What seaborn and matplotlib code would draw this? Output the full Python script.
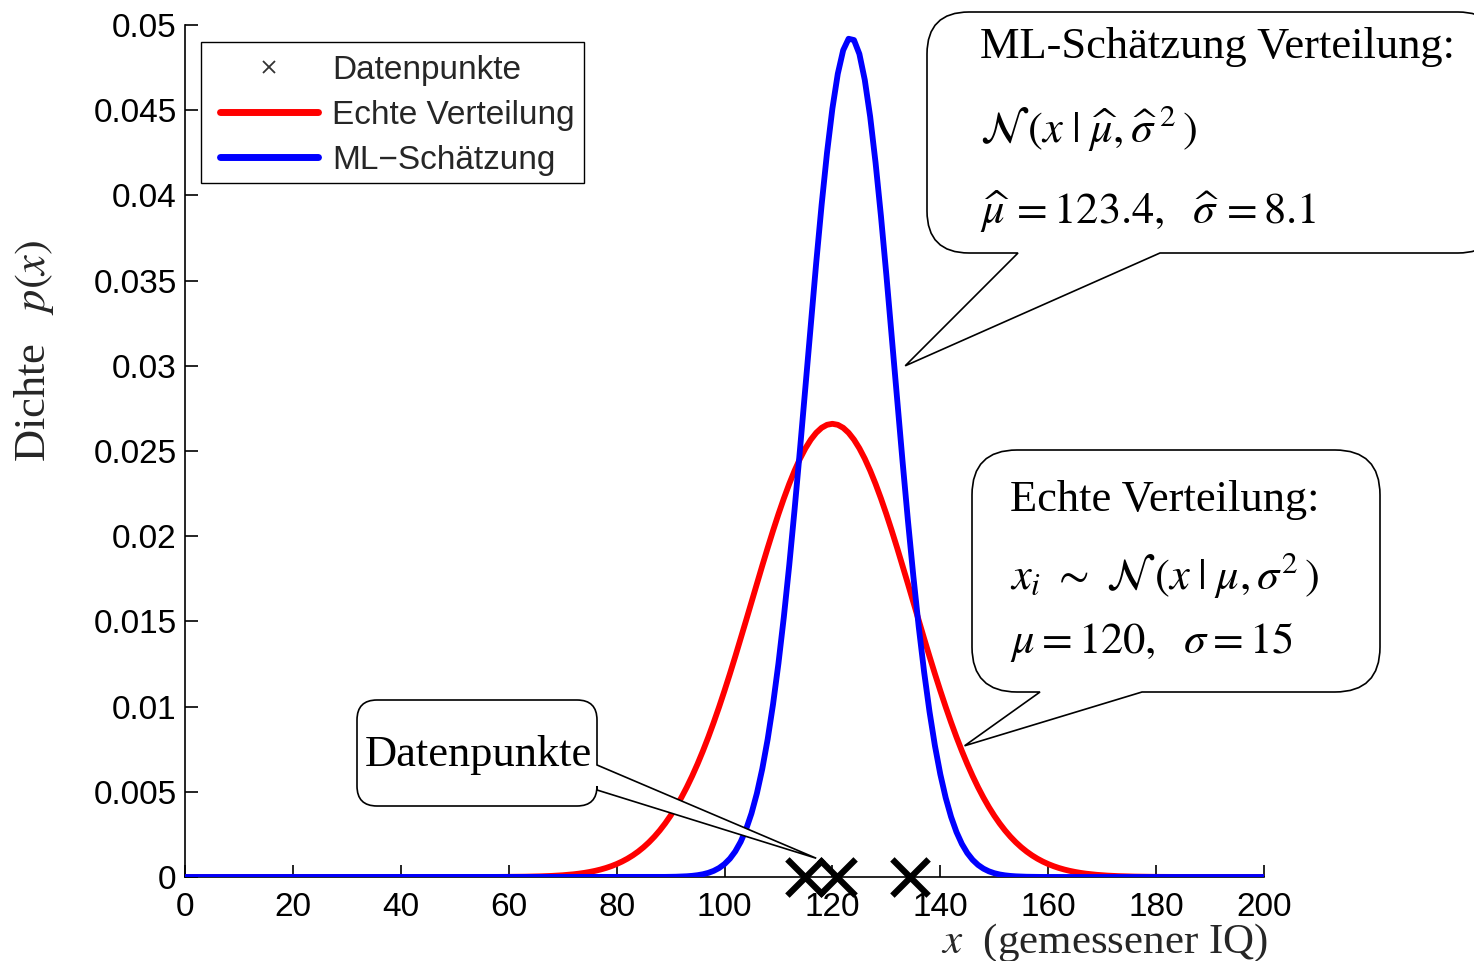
import numpy as np
import matplotlib
matplotlib.use("Agg")
import matplotlib.pyplot as plt
import seaborn as sns
from matplotlib.path import Path
from matplotlib.patches import PathPatch, Rectangle
from matplotlib.lines import Line2D
from matplotlib.transforms import Affine2D

# Normal distributions: true model and maximum-likelihood estimate
true_mu, true_sigma = 120.0, 15.0
ml_mu, ml_sigma = 123.4, 8.1

# Measured IQ values
data_points = [115.0, 120.8, 134.4]

x_ticks = [0, 20, 40, 60, 80, 100, 120, 140, 160, 180, 200]
y_ticks = [0, 0.005, 0.01, 0.015, 0.02, 0.025, 0.03, 0.035, 0.04, 0.045, 0.05]
y_tick_labels = ["0", "0.005", "0.01", "0.015", "0.02", "0.025",
                 "0.03", "0.035", "0.04", "0.045", "0.05"]

x_grid = np.arange(0, 201, 1.0)


def normal_pdf(x, mu, sigma):
    return np.exp(-0.5 * ((x - mu) / sigma) ** 2) / (sigma * np.sqrt(2 * np.pi))


true_pdf = normal_pdf(x_grid, true_mu, true_sigma)
ml_pdf = normal_pdf(x_grid, ml_mu, ml_sigma)

sns.set_theme(style="ticks")
plt.rcParams["font.family"] = ["Liberation Sans", "DejaVu Sans"]
plt.rcParams["mathtext.fontset"] = "stix"

W, H = 1474, 961
fig = plt.figure(figsize=(W / 100, H / 100), dpi=100)
fig.patch.set_facecolor("white")
ax = fig.add_axes([185 / W, 1 - 877 / H, 1079 / W, 852 / H])
ax.set_facecolor("white")

sns.lineplot(x=x_grid, y=true_pdf, color=(1, 0, 0), linewidth=4.2, ax=ax,
             legend=False, zorder=2)
sns.lineplot(x=x_grid, y=ml_pdf, color=(0, 0, 1), linewidth=4.2, ax=ax,
             legend=False, zorder=3)
sns.scatterplot(x=data_points, y=[0.0] * len(data_points), marker="x", s=680,
                color="black", linewidth=4.5, ax=ax, legend=False,
                clip_on=False, zorder=6)

ax.set_xlim(0, 200)
ax.set_ylim(0, 0.05)
ax.set_xticks(x_ticks)
ax.set_xticklabels([str(t) for t in x_ticks])
ax.set_yticks(y_ticks)
ax.set_yticklabels(y_tick_labels)
ax.tick_params(direction="in", length=9, width=1.2, labelsize=24,
               colors="black")
ax.tick_params(axis="y", pad=6)
ax.tick_params(axis="x", pad=11)
for side in ("left", "bottom"):
    ax.spines[side].set_linewidth(1.2)
    ax.spines[side].set_color("black")
sns.despine(ax=ax)

serif = ["Liberation Serif", "DejaVu Serif"]
ax.set_ylabel(r"Dichte$\quad p(x)$", fontsize=32, family=serif,
              va="center", ha="center")
ax.yaxis.set_label_coords(-0.140, 0.618)
ax.set_xlabel(r"$x$  (gemessener IQ)", fontsize=31, family=serif,
              ha="right", va="center")
ax.xaxis.set_label_coords(1.004, -0.077)

# Image-pixel transform (origin top-left) for the annotation layer
px = Affine2D().scale(1 / W, -1 / H).translate(0, 1) + fig.transFigure

handles = [
    Line2D([], [], linestyle="none", marker="x", color="#333333",
           markersize=8, markeredgewidth=1.3, label="Datenpunkte"),
    Line2D([], [], color=(1, 0, 0), linewidth=5, label="Echte Verteilung"),
    Line2D([], [], color=(0, 0, 1), linewidth=5, label="ML\u2212Schätzung"),
]
leg = ax.legend(handles=handles, loc="upper left",
                bbox_to_anchor=(35 / 1079, (877 - 55) / 852), borderaxespad=0,
                frameon=False, fontsize=24, handlelength=2.94,
                handletextpad=0.42, labelspacing=0.42, borderpad=0)
fig.add_artist(Rectangle((201, 42), 383, 141, transform=px, fill=False,
                         edgecolor="black", linewidth=1.0, zorder=4))


def data_to_px(x, y):
    dx, dy = ax.transData.transform((x, y))
    return dx, H - dy


def bubble(left, top, right, bottom, r, side, b1, b2, tip):
    v, c = [], []

    def mv(p):
        v.append(p); c.append(Path.MOVETO)

    def ln(p):
        v.append(p); c.append(Path.LINETO)

    def cv(ctrl, p):
        v.extend([ctrl, p]); c.extend([Path.CURVE3, Path.CURVE3])

    mv((left + r, top))
    ln((right - r, top))
    cv((right, top), (right, top + r))
    if side == "right":
        ln((right, b1)); ln(tip); ln((right, b2))
    ln((right, bottom - r))
    cv((right, bottom), (right - r, bottom))
    if side == "bottom":
        ln((b2, bottom)); ln(tip); ln((b1, bottom))
    ln((left + r, bottom))
    cv((left, bottom), (left, bottom - r))
    ln((left, top + r))
    cv((left, top), (left + r, top))
    v.append((left + r, top)); c.append(Path.CLOSEPOLY)
    patch = PathPatch(Path(v, c), facecolor="white", edgecolor="black",
                      linewidth=1.2, transform=px, zorder=10, clip_on=False)
    fig.add_artist(patch)


bubble(927, 12, 1500, 253, 42, "bottom", 1018, 1160, data_to_px(133.5, 0.0300))
bubble(972, 450, 1380, 692, 45, "bottom", 1040, 1142, data_to_px(144.5, 0.0077))
bubble(357, 700, 597, 806, 20, "right", 765, 790, data_to_px(117.0, 0.0011))

txt = dict(transform=px, fontsize=32, family=serif, va="center", ha="left",
           zorder=11, color="black")
fig.text(980, 47, "ML-Schätzung Verteilung:", **txt)
fig.text(980, 128,
         r"$\mathcal{N}\,(x\;|\;\widehat{\mu},\widehat{\sigma}^{\;2}\,)$", **txt)
fig.text(980, 212, r"$\widehat{\mu}\,=123.4,\ \ \widehat{\sigma}\,=8.1$", **txt)

fig.text(1010, 500, "Echte Verteilung:", **txt)
fig.text(1010, 575,
         r"$x_i\ \sim\ \mathcal{N}\,(x\;|\;\mu,\sigma^{2}\,)$", **txt)
fig.text(1010, 642, r"$\mu=120,\ \ \sigma=15$", **txt)

fig.text(478, 755, "Datenpunkte", **{**txt, "ha": "center"})

fig.savefig("out.png", dpi=100, facecolor="white")
